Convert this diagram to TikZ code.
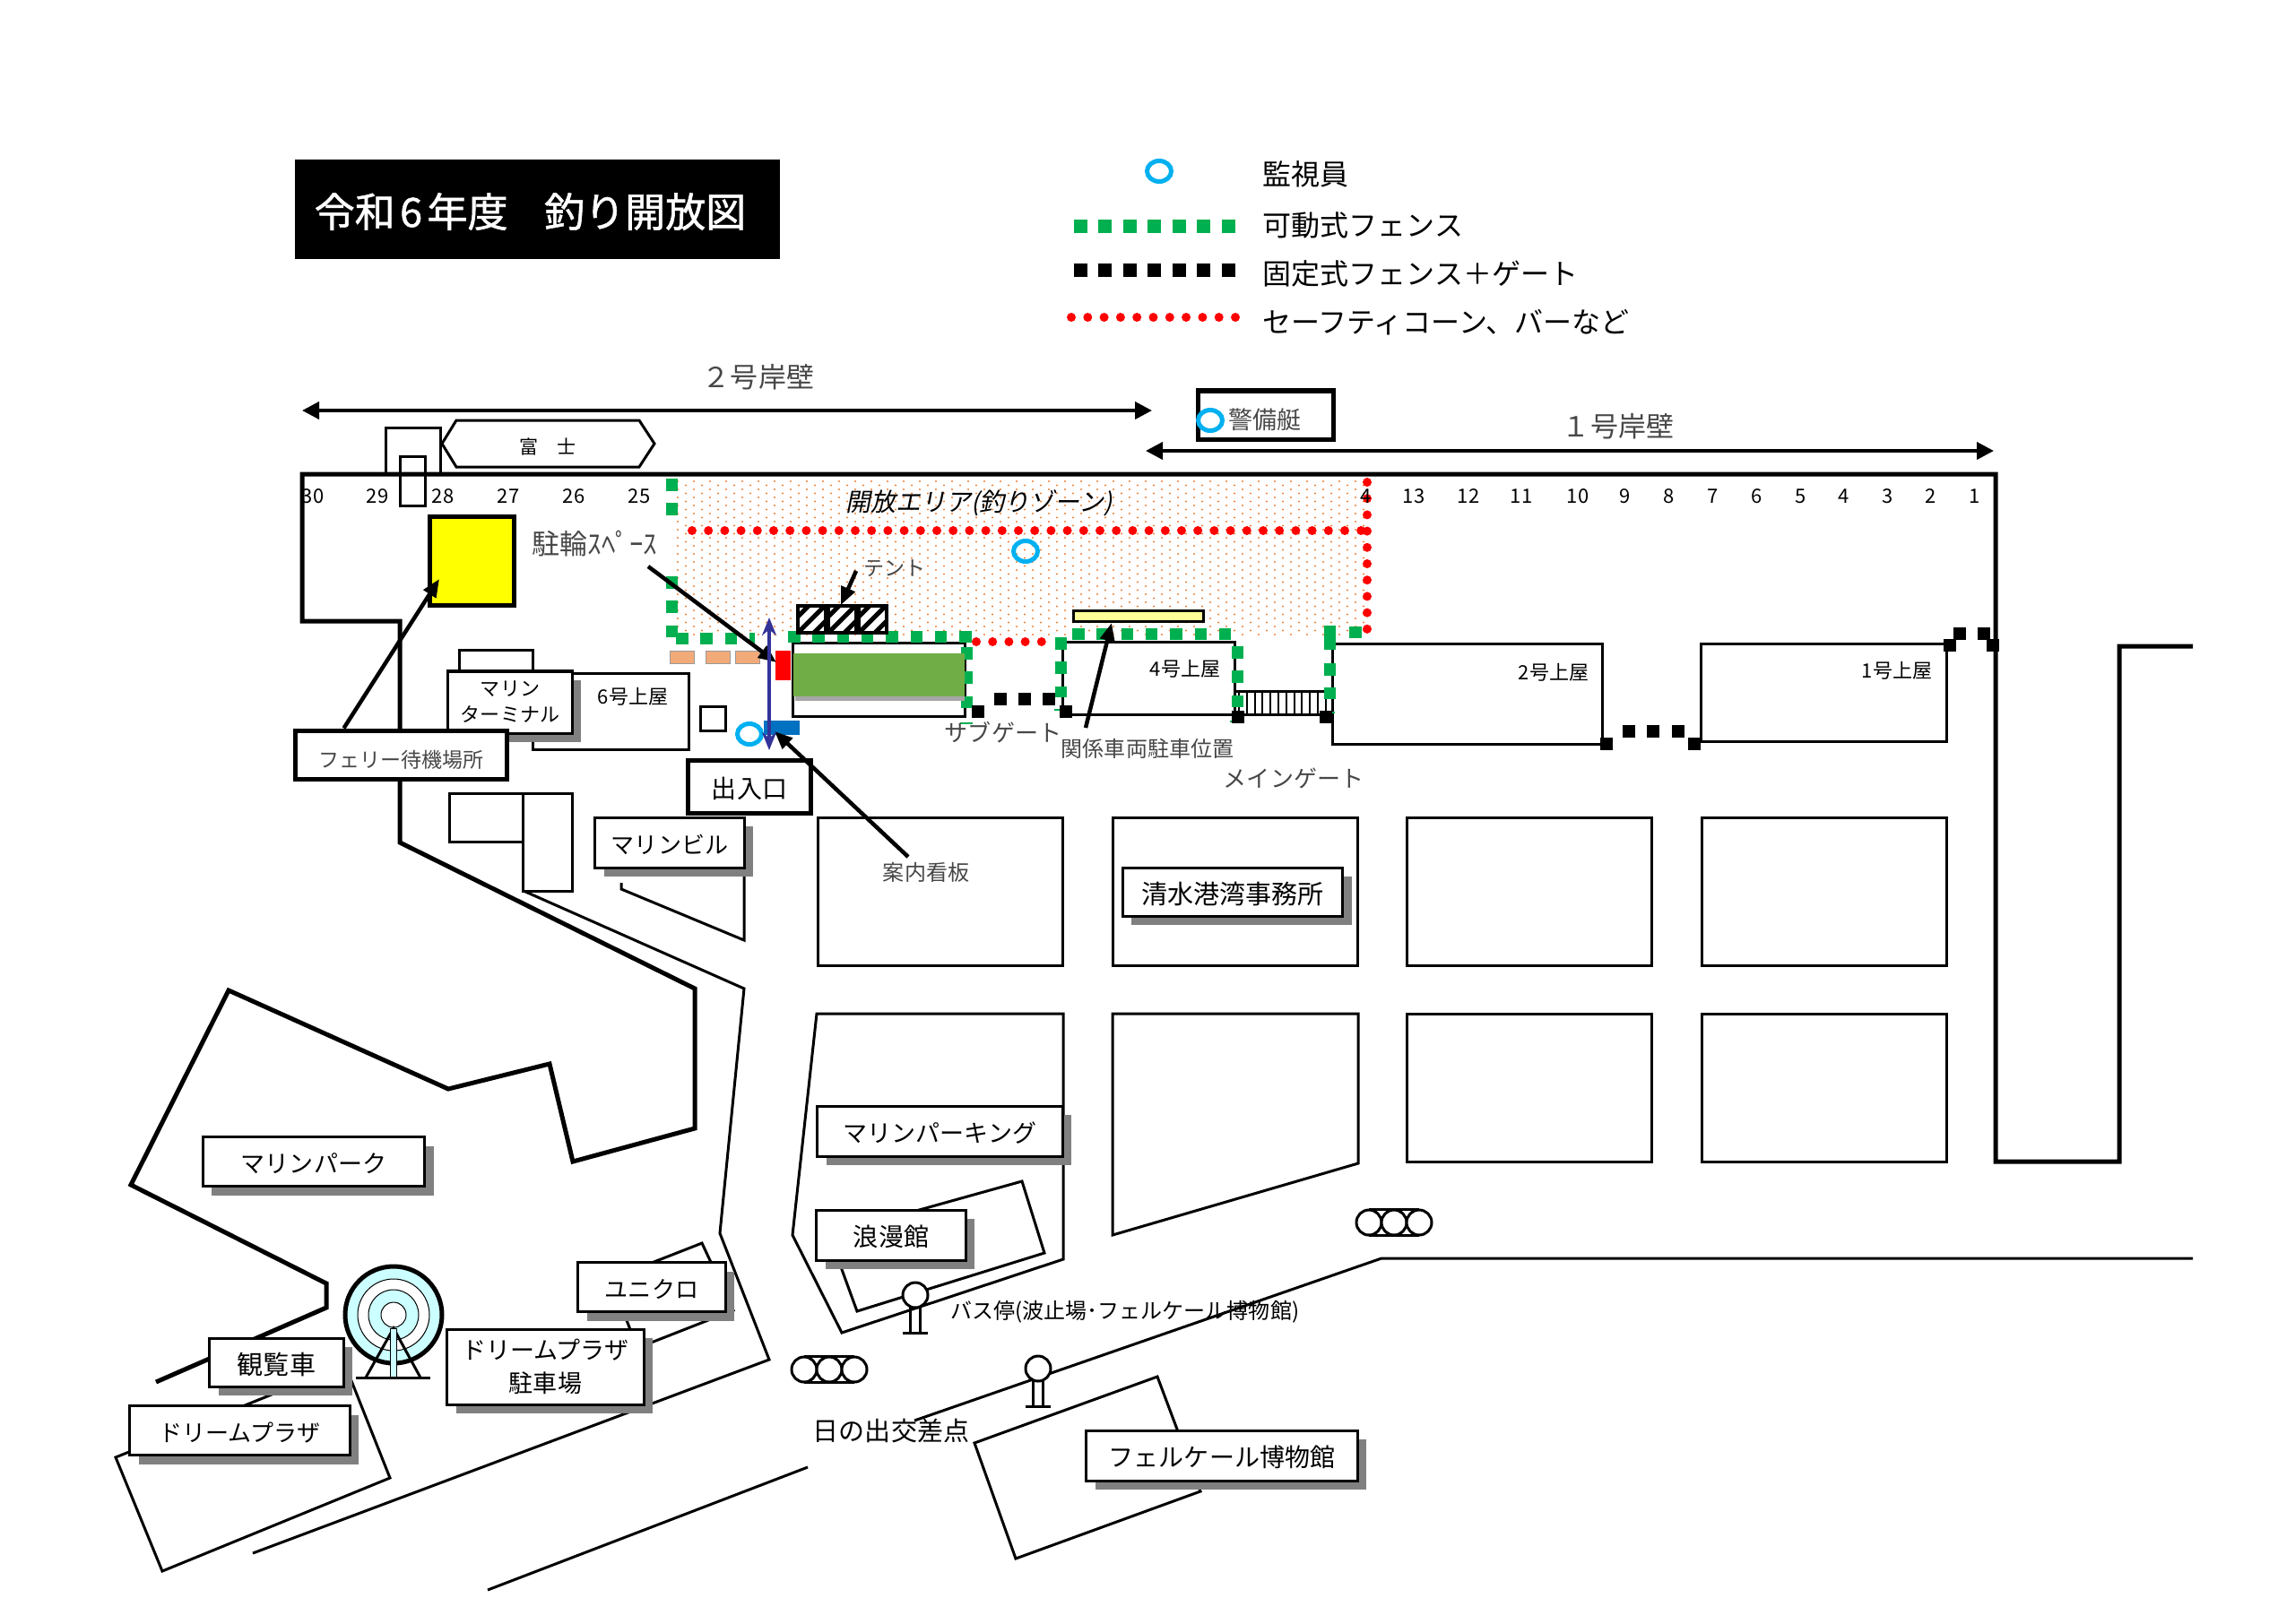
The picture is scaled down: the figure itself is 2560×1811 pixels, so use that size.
\documentclass[tikz,border=0pt]{standalone}
\usepackage{fontspec}
\setmainfont{Noto Sans CJK JP}
\newfontfamily\slantfont[FakeSlant=0.2]{Noto Sans CJK JP}
\newfontfamily\titlefont[FakeBold=1.2]{Noto Sans CJK JP}
\usetikzlibrary{arrows.meta,shadows}
\definecolor{fencegreen}{HTML}{00B050}
\definecolor{ringblue}{HTML}{00B0F0}
\definecolor{dotorange}{HTML}{ED7D31}
\definecolor{shadowgray}{HTML}{808080}
\definecolor{lawngreen}{HTML}{70AD47}
\definecolor{signblue}{HTML}{0070C0}
\definecolor{navyarrow}{HTML}{333399}
\definecolor{wheelcyan}{HTML}{CCFFFF}
\definecolor{bikeyellow}{HTML}{FFFF00}
\definecolor{palebar}{HTML}{FFFF99}
\definecolor{coneRed}{HTML}{FF0000}
\newcommand{\fpx}[1]{\fontsize{\the\dimexpr0.2845pt*#1\relax}{\the\dimexpr0.32pt*#1\relax}\selectfont}
\tikzset{
    thinline/.style={line width=0.03cm},
    thickline/.style={line width=0.05cm},
    labelbox/.style={draw, fill=white, line width=0.03cm, inner sep=0pt, align=center,
        execute at begin node={\rule{0pt}{1em}},
        general shadow={fill=shadowgray, shadow xshift=0.1cm, shadow yshift=-0.1cm}},
    plainbox/.style={draw, fill=white, thickline, inner sep=0pt, align=center,
        execute at begin node={\rule{0pt}{1em}}},
    caption/.style={inner sep=0pt, align=center, execute at begin node={\rule{0pt}{1em}}},
    lightcaption/.style={caption, text=black!72},
    numlabel/.style={inner sep=0pt, font=\fpx{22}},
    greenfence/.style={draw=fencegreen, line width=0.13cm, dash pattern=on 0.135cm off 0.138cm},
    guard/.style={draw=ringblue, line width=0.05cm, x radius=13.5, y radius=11.5},
    pointer/.style={line width=0.045cm, -{Triangle[length=0.2cm, width=0.16cm]}},
    berth/.style={line width=0.04cm, {Triangle[length=0.19cm, width=0.19cm]}-{Triangle[length=0.19cm, width=0.19cm]}},
    signal/.pic={
        \draw[thinline] (-28,-14.5) -- (28,-14.5) (-28,14.5) -- (28,14.5);
        \foreach \k in {-14,14} {
            \draw[line width=0.02cm] ({\k-7},-14.5) -- ({\k+7},14.5) ({\k+7},-14.5) -- ({\k-7},14.5);
        };
        \foreach \k in {-28,0,28} {
            \draw[thinline, fill=white] (\k,0) circle [radius=14];
        };
    },
    busstop/.pic={
        \draw[thinline] (-5.5,14) -- (-5.5,42) (5.5,14) -- (5.5,42);
        \draw[thinline] (-14,42) -- (14,42);
        \draw[thinline, fill=white] (0,0) circle [radius=14];
    },
}
\begin{document}
\begin{tikzpicture}[x=0.01cm, y=-0.01cm]
    \useasboundingbox (0,0) rectangle (2560,1811);

    % the open area
    \foreach \r in {0,...,38} {
        \pgfmathsetmacro{\shift}{mod(\r,2)*9}
        \foreach \c in {0,...,42} {
            \fill[dotorange] ({756+\shift+\c*18},{537+\r*4.5}) circle [radius=1.2];
        };
    };

    % the quay
    \draw[thickline, line join=miter] (174,1542) -- (364,1459) -- (364,1432) -- (146,1322) -- (255,1105)
        -- (500,1215) -- (613,1187) -- (639,1296) -- (775,1259) -- (775,1103) -- (446,940) -- (446,693)
        -- (337,693) -- (337,529) -- (2226,529) -- (2226,1296) -- (2364,1296) -- (2364,721) -- (2446,721);

    % the roads
    \draw[thinline] (584,994) -- (830,1103) -- (803,1376) -- (858,1517) -- (282,1733);
    \draw[thinline] (544,1774) -- (901,1637);
    \draw[thinline] (1020,1585) -- (1541,1404) -- (2446,1404);

    % the blocks
    \foreach \x in {912,1241,1569,1898} {
        \draw[thinline] (\x,912) rectangle ({\x+273},1077);
    };
    \foreach \x in {1569,1898} {
        \draw[thinline] (\x,1131) rectangle ({\x+273},1296);
    };
    \draw[thinline] (1241,1131) -- (1515,1131) -- (1515,1298) -- (1241,1378) -- cycle;
    \draw[thinline] (911,1131) -- (884,1378) -- (939,1487) -- (1186,1405) -- (1186,1131) -- cycle;
    \draw[thinline] (1140,1318) -- (1165,1398) -- (956,1463) -- (925,1378) -- cycle;
    \draw[thinline] (1291,1536) -- (1087,1610) -- (1133,1739) -- (1339,1664) -- cycle;
    \draw[thinline] (129,1626) -- (181,1753) -- (435,1649) -- (385,1523) -- cycle;
    \draw[thinline] (783,1387) -- (681,1427) -- (711,1504) -- (818,1462) -- cycle;
    \draw[thinline] (693,985) -- (693,992) -- (830,1049) -- (830,968);

    % the sheds
    \draw[thinline] (430,529) -- (430,477) -- (491,477) -- (491,529);
    \draw[thinline] (446,509) rectangle (474,564);
    \draw[thinline, fill=white] (493,495) -- (509,469) -- (713,469) -- (730,495) -- (713,521) -- (509,521) -- cycle;
    \draw[thickline, fill=bikeyellow] (479,576) rectangle (573,675);
    \draw[thinline, fill=white] (512,725) rectangle (594,748);
    \draw[thinline, fill=white] (594,751) rectangle (768,836);
    \draw[thinline] (781,788) rectangle (809,815);
    \draw[thinline] (501,885) rectangle (583,939);
    \draw[thinline] (583,885) rectangle (638,994);
    \draw[thinline] (884,717) rectangle (1076,799);
    \draw[thinline] (1185,716) rectangle (1377,797);
    \draw[thinline] (1486,718) -- (1787,718) -- (1787,830) -- (1486,830) -- cycle;
    \draw[thinline] (1897,718) rectangle (2171,827);

    % the gate
    \draw[thinline] (1377,771) -- (1486,771) (1377,797) -- (1486,797);
    \foreach \i in {0,...,11} {
        \draw[line width=0.02cm] ({1382+\i*8.8},771) -- ({1382+\i*8.8},797);
    };

    % the fences
    \draw[greenfence] (749,534) -- (749,576);
    \draw[greenfence] (749,643) -- (749,712);
    \draw[greenfence] (754,712) -- (842,712);
    \draw[greenfence] (879,710) -- (1085,710);
    \draw[greenfence] (1078,722) -- (1078,790);
    \draw[greenfence] (1183,711) -- (1183,778);
    \draw[greenfence] (1196,707) -- (1373,707);
    \draw[greenfence] (1380,721) -- (1380,790);
    \draw[greenfence, solid] (1483,698) -- (1483,725);
    \draw[greenfence] (1483,740) -- (1483,780);
    \draw[greenfence, solid] (1505,705) -- (1519,705);
    \foreach \x/\y in {1071/807, 1176/792, 1372/805, 1475/795} {
        \draw[fencegreen, line width=0.015cm] (\x,\y) -- ({\x+14},\y);
    };
    \foreach \x/\y in {1091/794, 1116/780, 1143/780, 1170/780, 1189/794, 1381/800, 1479/800,
        1792/830, 1817/816, 1844/816, 1872/816, 1890/830,
        2175/720, 2186/707, 2213/707, 2223/720} {
        \fill ({\x-7},{\y-7}) rectangle ({\x+7},{\y+7});
    };
    \foreach \i in {0,...,41} {
        \fill[coneRed] ({772+\i*18.2},592) circle [radius=5];
    };
    \foreach \i in {0,...,9} {
        \fill[coneRed] (1525,{538+\i*18.2}) circle [radius=5];
    };
    \foreach \i in {0,...,4} {
        \fill[coneRed] ({1089+\i*18.2},716) circle [radius=5];
    };

    % the lawn and the tents
    \fill[black!35] (887,733) rectangle (1076,782);
    \fill[lawngreen] (885,729) rectangle (1076,777);
    \draw[thinline, fill=palebar] (1197,681) rectangle (1342,693);
    \foreach \x in {890,924,958} {
        \begin{scope}
            \clip (\x,676) rectangle ({\x+31},706);
            \fill[white] (\x,676) rectangle ({\x+31},706);
            \foreach \d in {-18,0,18} {
                \draw[line width=0.05cm] ({\x+\d},706) -- ({\x+\d+30},676);
            };
        \end{scope}
        \draw[line width=0.045cm] (\x,676) rectangle ({\x+31},706);
    };
    \foreach \x in {747,787,820} {
        \draw[black!40, line width=0.01cm, fill=dotorange!65] (\x,726) rectangle ({\x+27},740);
    };
    \fill[coneRed] (865,726) rectangle (882,759);
    \fill[signblue] (852,804) rectangle (892,820);

    % the guards
    \draw[guard] (1293,191) circle;
    \draw[guard] (1144,615) circle;
    \draw[guard] (836,819) circle;

    % the numbers
    \foreach \n/\x in {30/349, 29/421, 28/494, 27/567, 26/640, 25/713, 13/1577, 12/1638, 11/1697, 10/1760,
        9/1813, 8/1862, 7/1911, 6/1960, 5/2009, 4/2057, 3/2106, 2/2154, 1/2203} {
        \node[numlabel] (quay\n) at (\x,553.5) {\n};
    };
    \node[numlabel] (quaycut) at (1524,553.5) {4};

    % the wheel
    \draw[thickline, fill=wheelcyan] (439,1467) circle [radius=54];
    \draw[line width=0.01cm, fill=white] (439,1467) circle [radius=40];
    \draw[line width=0.01cm, fill=wheelcyan] (439,1467) circle [radius=28];
    \draw[line width=0.01cm, fill=white] (439,1467) circle [radius=14];
    \draw[thinline] (408,1537) -- (439,1482) -- (469,1537);
    \draw[line width=0.01cm, fill=wheelcyan] (435,1482) rectangle (442,1537);
    \draw[thinline] (397,1537) -- (480,1537);

    % the signals and the stops
    \pic at (925,1528) {signal};
    \pic at (1555,1364) {signal};
    \pic at (1021,1445) {busstop};
    \pic at (1158,1527) {busstop};

    % the title and the legend
    \node[fill=black, minimum width=5.41cm, minimum height=1.11cm, inner sep=0pt] (title) at (599.5,233.5) {};
    \node[inner sep=0pt, text=white, font=\fpx{45}\titlefont] (titletext) at (591.5,236) {令和\hspace{0.12em}6\hspace{0.12em}年度\hspace{0.9em}釣り開放図};
    \node[caption, anchor=west, font=\fpx{32}] (keyguard) at (1408,192) {監視員};
    \node[caption, anchor=west, font=\fpx{32}] (keymove) at (1408,249) {可動式フェンス};
    \node[caption, anchor=west, font=\fpx{32}] (keyfix) at (1408,303) {固定式フェンス＋ゲート};
    \node[caption, anchor=west, font=\fpx{32}] (keycone) at (1408,357) {セーフティコーン、バーなど};
    \draw[fencegreen, line width=0.15cm, dash pattern=on 0.15cm off 0.124cm] (1198,252) -- (1378,252);
    \draw[black, line width=0.15cm, dash pattern=on 0.15cm off 0.124cm] (1198,301) -- (1378,301);
    \foreach \i in {0,...,10} {
        \fill[coneRed] ({1195+\i*18.3},354) circle [radius=5];
    };

    % the berths
    \node[lightcaption, font=\fpx{31}] (berthtwo) at (846,418) {２号岸壁};
    \node[lightcaption, font=\fpx{31}] (berthone) at (1805,473) {１号岸壁};
    \coordinate (twowest) at (337,458);
    \coordinate (twoeast) at (1285,458);
    \coordinate (onewest) at (1278,503);
    \coordinate (oneeast) at (2224,503);
    \draw[berth] (twowest) -- (twoeast);
    \draw[berth] (onewest) -- (oneeast);
    \node[draw, thickline, inner sep=0pt, minimum width=1.5cm, minimum height=0.54cm] (patrol) at (1412,463) {};
    \node[lightcaption, font=\fpx{27}] (patroltext) at (1411,466) {警備艇};
    \draw[guard, fill=white] (1350,469) circle;
    \node[caption, font=\fpx{21}] (fuji) at (611,497) {富　士};

    % the labels
    \node[caption, font=\fpx{28}\slantfont] (openarea) at (1092,559) {開放エリア(釣りゾーン)};
    \node[lightcaption, anchor=west, font=\fpx{31}] (cycle) at (593,604) {駐輪ｽﾍﾟｰｽ};
    \node[lightcaption, font=\fpx{23}] (tent) at (998,632) {テント};
    \node[caption, font=\fpx{22}] (shedsix) at (706,775) {6号上屋};
    \node[caption, font=\fpx{22}] (shedfour) at (1322,744) {4号上屋};
    \node[caption, font=\fpx{22}] (shedtwo) at (1733,748) {2号上屋};
    \node[caption, font=\fpx{22}] (shedone) at (2116,746) {1号上屋};
    \node[lightcaption, font=\fpx{26}] (subgate) at (1119,815) {サブゲート};
    \node[lightcaption, font=\fpx{24}] (carpark) at (1280,833) {関係車両駐車位置};
    \node[lightcaption, font=\fpx{26}] (maingate) at (1443,866) {メインゲート};
    \node[lightcaption, font=\fpx{24}] (signboard) at (1033,971) {案内看板};
    \node[caption, anchor=west, font=\fpx{24}] (busline) at (1060,1462) {バス停(波止場･フェルケール博物館)};
    \node[caption, font=\fpx{29}] (crossing) at (994,1594) {日の出交差点};

    % the boxes
    \node[labelbox, minimum width=1.38cm, minimum height=0.69cm, font=\fpx{22}] (terminal) at (569,783.5) {マリン\\[0.2em]ターミナル};
    \node[plainbox, minimum width=2.35cm, minimum height=0.54cm, font=\fpx{23}, text=black!72,
        execute at begin node={\rule{0pt}{1.3em}}] (ferry) at (447.5,842) {フェリー待機場所};
    \node[plainbox, minimum width=1.36cm, minimum height=0.59cm, font=\fpx{28}] (gateway) at (836,878) {出入口};
    \node[labelbox, minimum width=1.66cm, minimum height=0.56cm, font=\fpx{26}] (marinebldg) at (747,940) {マリンビル};
    \node[labelbox, minimum width=2.45cm, minimum height=0.54cm, font=\fpx{29}] (portoffice) at (1375,995) {清水港湾事務所};
    \node[labelbox, minimum width=2.73cm, minimum height=0.56cm, font=\fpx{27}] (marineparking) at (1048.5,1262) {マリンパーキング};
    \node[labelbox, minimum width=2.47cm, minimum height=0.55cm, font=\fpx{27}] (marinepark) at (350,1296) {マリンパーク};
    \node[labelbox, minimum width=1.66cm, minimum height=0.56cm, font=\fpx{28}] (romankan) at (994,1378) {浪漫館};
    \node[labelbox, minimum width=1.64cm, minimum height=0.55cm, font=\fpx{26}] (uniqlo) at (727,1436) {ユニクロ};
    \node[labelbox, minimum width=1.49cm, minimum height=0.54cm, font=\fpx{29}] (wheel) at (308.5,1520) {観覧車};
    \node[labelbox, minimum width=2.19cm, minimum height=0.84cm, font=\fpx{27}] (plazapark) at (608.5,1525) {ドリームプラザ\\[0.25em]駐車場};
    \node[labelbox, minimum width=2.45cm, minimum height=0.55cm, font=\fpx{26}] (plaza) at (267.5,1596) {ドリームプラザ};
    \node[labelbox, minimum width=3.02cm, minimum height=0.56cm, font=\fpx{28}] (museum) at (1363,1624) {フェルケール博物館};

    % arrows
    \coordinate (ferrytip) at (490,646);
    \coordinate (cycletail) at (723,632);
    \coordinate (cycletip) at (866,739);
    \coordinate (tenttail) at (955,637);
    \coordinate (tenttip) at (938,675);
    \coordinate (signtail) at (1013,956);
    \coordinate (signtip) at (864,816);
    \coordinate (cartail) at (1211,812);
    \coordinate (cartip) at (1240,695);
    \coordinate (gatenorth) at (858,689);
    \coordinate (gatesouth) at (858,837);

    \draw[pointer] ([xshift=-0.64cm]ferry.north) -- (ferrytip);
    \draw[pointer] (cycletail) -- (cycletip);
    \draw[pointer] (tenttail) -- (tenttip);
    \draw[pointer] (signtail) -- (signtip);
    \draw[pointer] (cartail) -- (cartip);
    \draw[navyarrow, line width=0.04cm, {Stealth[length=0.2cm, width=0.16cm]}-{Stealth[length=0.2cm, width=0.16cm]}] (gatenorth) -- (gatesouth);
\end{tikzpicture}
\end{document}
